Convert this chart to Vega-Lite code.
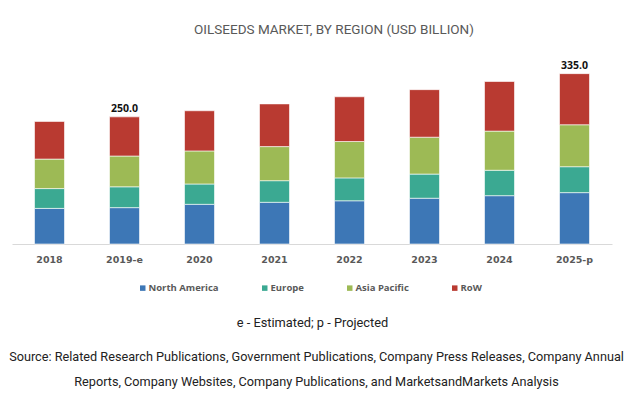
{
  "$schema": "https://vega.github.io/schema/vega-lite/v6.json",
  "width": 600,
  "height": 178,
  "autosize": {"type": "none"},
  "padding": {"left": 12, "top": 66, "right": 21, "bottom": 151},
  "background": "white",
  "title": {
    "text": "OILSEEDS MARKET, BY REGION (USD BILLION)",
    "font": "Roboto",
    "fontSize": 13.5,
    "fontWeight": "normal",
    "color": "#595959",
    "anchor": "middle",
    "dx": 22,
    "offset": 24
  },
  "config": {"view": {"stroke": null}},
  "datasets": {
    "regions": [
      {"year": "2018", "region": "North America", "value": 70},
      {"year": "2018", "region": "Europe", "value": 39},
      {"year": "2018", "region": "Asia Pacific", "value": 58},
      {"year": "2018", "region": "RoW", "value": 74},
      {"year": "2019-e", "region": "North America", "value": 71.5},
      {"year": "2019-e", "region": "Europe", "value": 41},
      {"year": "2019-e", "region": "Asia Pacific", "value": 60.5},
      {"year": "2019-e", "region": "RoW", "value": 77},
      {"year": "2020", "region": "North America", "value": 78},
      {"year": "2020", "region": "Europe", "value": 40},
      {"year": "2020", "region": "Asia Pacific", "value": 65},
      {"year": "2020", "region": "RoW", "value": 79},
      {"year": "2021", "region": "North America", "value": 82},
      {"year": "2021", "region": "Europe", "value": 42.5},
      {"year": "2021", "region": "Asia Pacific", "value": 67},
      {"year": "2021", "region": "RoW", "value": 84},
      {"year": "2022", "region": "North America", "value": 85},
      {"year": "2022", "region": "Europe", "value": 45},
      {"year": "2022", "region": "Asia Pacific", "value": 71.5},
      {"year": "2022", "region": "RoW", "value": 88},
      {"year": "2023", "region": "North America", "value": 90},
      {"year": "2023", "region": "Europe", "value": 47.5},
      {"year": "2023", "region": "Asia Pacific", "value": 72.5},
      {"year": "2023", "region": "RoW", "value": 93.5},
      {"year": "2024", "region": "North America", "value": 95},
      {"year": "2024", "region": "Europe", "value": 50},
      {"year": "2024", "region": "Asia Pacific", "value": 77},
      {"year": "2024", "region": "RoW", "value": 97.5},
      {"year": "2025-p", "region": "North America", "value": 101},
      {"year": "2025-p", "region": "Europe", "value": 51},
      {"year": "2025-p", "region": "Asia Pacific", "value": 82.5},
      {"year": "2025-p", "region": "RoW", "value": 100.5}
    ],
    "totals": [
      {"year": "2019-e", "total": 250, "label": "250.0"},
      {"year": "2025-p", "total": 335, "label": "335.0"}
    ]
  },
  "layer": [
    {
      "data": {"name": "regions"},
      "transform": [
        {"window": [{"op": "row_number", "as": "stackpos"}], "groupby": ["year"]}
      ],
      "mark": {"type": "bar", "stroke": "white", "strokeWidth": 0.6},
      "encoding": {
        "x": {
          "field": "year",
          "type": "nominal",
          "sort": null,
          "scale": {"paddingInner": 0.6, "paddingOuter": 0.3},
          "axis": {
            "title": "e - Estimated; p - Projected",
            "titleFont": "Roboto",
            "titleFontSize": 12.8,
            "titleFontWeight": "normal",
            "titleColor": "#222222",
            "titlePadding": 53,
            "labelAngle": 0,
            "labelFont": "DejaVu Sans",
            "labelFontSize": 9.5,
            "labelFontWeight": "bold",
            "labelColor": "#595959",
            "labelPadding": 10,
            "ticks": false,
            "domainColor": "#d9d9d9",
            "grid": false
          }
        },
        "y": {
          "field": "value",
          "type": "quantitative",
          "stack": "zero",
          "scale": {"domain": [0, 350]},
          "axis": {
            "title": ["Source: Related Research Publications, Government Publications, Company Press Releases, Company Annual", "Reports, Company Websites, Company Publications, and MarketsandMarkets Analysis"],
            "titleAngle": 0,
            "titleX": 304,
            "titleY": 290,
            "titleAlign": "center",
            "titleBaseline": "middle",
            "titleFont": "Roboto",
            "titleFontSize": 12.7,
            "titleFontWeight": "normal",
            "titleColor": "#222222",
            "titleLineHeight": 25,
            "labels": false,
            "ticks": false,
            "domain": false,
            "grid": false
          }
        },
        "color": {
          "field": "region",
          "type": "nominal",
          "sort": ["North America", "Europe", "Asia Pacific", "RoW"],
          "scale": {
            "domain": ["North America", "Europe", "Asia Pacific", "RoW"],
            "range": ["#3d77b6", "#3ba992", "#9dba55", "#b93a31"]
          },
          "legend": {
            "orient": "none",
            "legendX": 126,
            "legendY": 217,
            "direction": "horizontal",
            "title": null,
            "symbolType": "square",
            "symbolSize": 30,
            "symbolStrokeWidth": 0,
            "labelFont": "Open Sans",
            "labelFontSize": 9.5,
            "labelFontWeight": "bold",
            "labelColor": "#595959",
            "columnPadding": 41,
            "labelOffset": 1
          }
        },
        "order": {"field": "stackpos", "type": "quantitative", "sort": "ascending"}
      }
    },
    {
      "data": {"name": "totals"},
      "mark": {"type": "text", "baseline": "bottom", "dy": -3, "font": "Open Sans", "fontSize": 10.5, "fontWeight": "bold", "color": "#111111"},
      "encoding": {
        "x": {"field": "year", "type": "nominal", "sort": null},
        "y": {"field": "total", "type": "quantitative"},
        "text": {"field": "label"}
      }
    }
  ]
}
